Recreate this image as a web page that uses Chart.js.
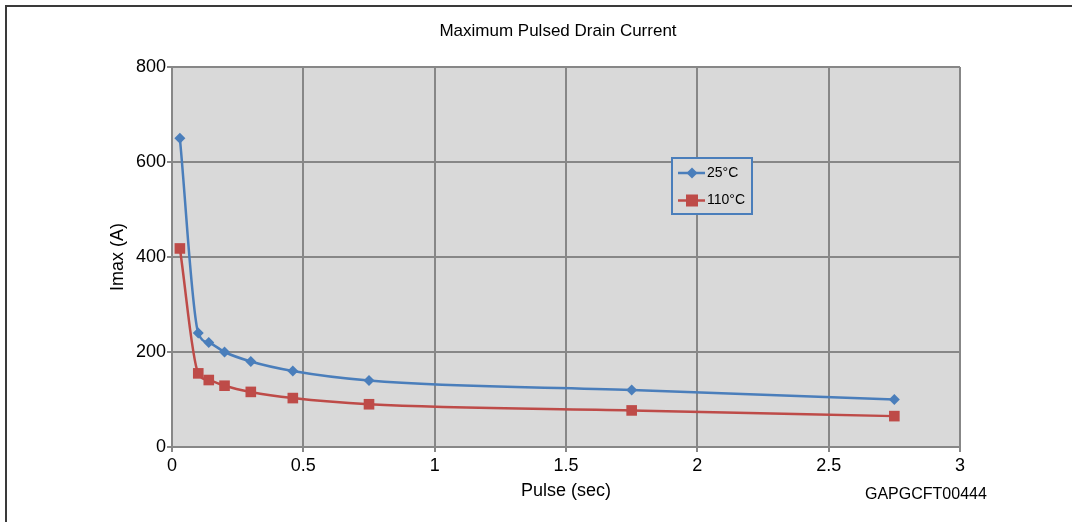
<!DOCTYPE html>
<html>
<head>
<meta charset="utf-8">
<script src="https://cdn.jsdelivr.net/npm/chart.js@4"></script>
<style>
html,body{margin:0;padding:0;background:#fff;}
#wrap{width:1072px;height:522px;position:relative;}
</style>
</head>
<body>
<div id="wrap"><canvas id="c" width="1072" height="522"></canvas></div>
<script>
const chartTitle = 'Maximum Pulsed Drain Current';
const xTitle = 'Pulse (sec)';
const yTitle = 'Imax (A)';
const figCode = 'GAPGCFT00444';
const seriesNames = ['25°C', '110°C'];
const pulse = [0.03, 0.1, 0.14, 0.2, 0.3, 0.46, 0.75, 1.75, 2.75];
const imax25 = [650, 240, 220, 200, 180, 160, 140, 120, 100];
const imax110 = [418, 155, 141, 129, 116, 103, 90, 77, 65];
const xTickLabels = {0:'0', 0.5:'0.5', 1:'1', 1.5:'1.5', 2:'2', 2.5:'2.5', 3:'3'};

const FONT = '"Liberation Sans", Arial, sans-serif';
const BLUE = '#4a7ebb', RED = '#be4b48', GRID = '#878787', PLOTBG = '#d9d9d9';

function pts(ys){ return pulse.map((x,i)=>({x:x,y:ys[i]})); }

const deco = {
  id:'deco',
  beforeDraw(chart){
    const {ctx, chartArea:a} = chart;
    ctx.save();
    ctx.fillStyle='#fff'; ctx.fillRect(0,0,chart.width,chart.height);
    ctx.fillStyle=PLOTBG; ctx.fillRect(a.left,a.top,a.right-a.left,a.bottom-a.top);
    ctx.strokeStyle='#3a3a3a'; ctx.lineWidth=2;
    ctx.beginPath(); ctx.moveTo(6,522); ctx.lineTo(6,6); ctx.lineTo(1072,6); ctx.stroke();
    ctx.restore();
  },
  afterDraw(chart){
    const {ctx} = chart;
    ctx.save();
    ctx.fillStyle='#000';
    ctx.font='17px '+FONT; ctx.textAlign='center'; ctx.textBaseline='middle';
    ctx.fillText(chartTitle, 558, 31);
    ctx.font='16px '+FONT; ctx.textAlign='left';
    ctx.fillText(figCode, 865, 495);
    // legend
    const lx=672, ly=158, lw=80, lh=56;
    ctx.fillStyle=PLOTBG; ctx.fillRect(lx,ly,lw,lh);
    ctx.strokeStyle=BLUE; ctx.lineWidth=2; ctx.strokeRect(lx,ly,lw,lh);
    chart.data.datasets.forEach((ds,i)=>{
      const y = i===0 ? 173 : 200.5;
      ctx.strokeStyle=ds.borderColor; ctx.lineWidth=2.5;
      ctx.beginPath(); ctx.moveTo(678,y); ctx.lineTo(705,y); ctx.stroke();
      ctx.fillStyle=ds.pointBackgroundColor;
      if(ds.pointStyle==='rectRot'){
        const r=5.5;
        ctx.beginPath(); ctx.moveTo(692-r,y); ctx.lineTo(692,y-r); ctx.lineTo(692+r,y); ctx.lineTo(692,y+r); ctx.closePath(); ctx.fill();
      } else {
        ctx.fillRect(692-6,y-6,12,12);
      }
      ctx.fillStyle='#000'; ctx.font='14px '+FONT; ctx.textAlign='left'; ctx.textBaseline='middle';
      ctx.fillText(ds.label, 707, y);
    });
    ctx.restore();
  }
};

new Chart(document.getElementById('c'), {
  type:'line',
  data:{
    datasets:[
      {label:seriesNames[0], data:pts(imax25), borderColor:BLUE, backgroundColor:BLUE, pointBackgroundColor:BLUE, pointBorderColor:BLUE,
       borderWidth:2.5, pointStyle:'rectRot', pointRadius:5.5, pointBorderWidth:0, cubicInterpolationMode:'monotone', fill:false},
      {label:seriesNames[1], data:pts(imax110), borderColor:RED, backgroundColor:RED, pointBackgroundColor:RED, pointBorderColor:RED,
       borderWidth:2.5, pointStyle:'rect', pointRadius:7.5, pointBorderWidth:0, cubicInterpolationMode:'monotone', fill:false}
    ]
  },
  options:{
    responsive:false, animation:false, devicePixelRatio:1,
    layout:{padding:{top:67,right:112,left:0,bottom:0}},
    plugins:{legend:{display:false}, title:{display:false}, tooltip:{enabled:false}},
    scales:{
      x:{type:'linear', min:0, max:3,
         ticks:{stepSize:0.5, color:'#000', font:{family:FONT,size:18}, padding:3, maxRotation:0,
                callback:(v)=> xTickLabels[v] !== undefined ? xTickLabels[v] : ''},
         grid:{color:GRID, lineWidth:2, tickLength:5, tickColor:GRID},
         border:{color:GRID, width:2},
         title:{display:true, text:xTitle, color:'#000', font:{family:FONT,size:18}, padding:{top:0,bottom:20}},
         afterFit(s){ s.height=75; }
      },
      y:{min:0, max:800,
         ticks:{stepSize:200, color:'#000', font:{family:FONT,size:18}, padding:1},
         grid:{color:GRID, lineWidth:2, tickLength:5, tickColor:GRID},
         border:{color:GRID, width:2},
         title:{display:true, text:yTitle, color:'#000', font:{family:FONT,size:18}, padding:{top:107,bottom:0}},
         afterFit(s){ s.width=172; }
      }
    }
  },
  plugins:[deco]
});
</script>
</body>
</html>
